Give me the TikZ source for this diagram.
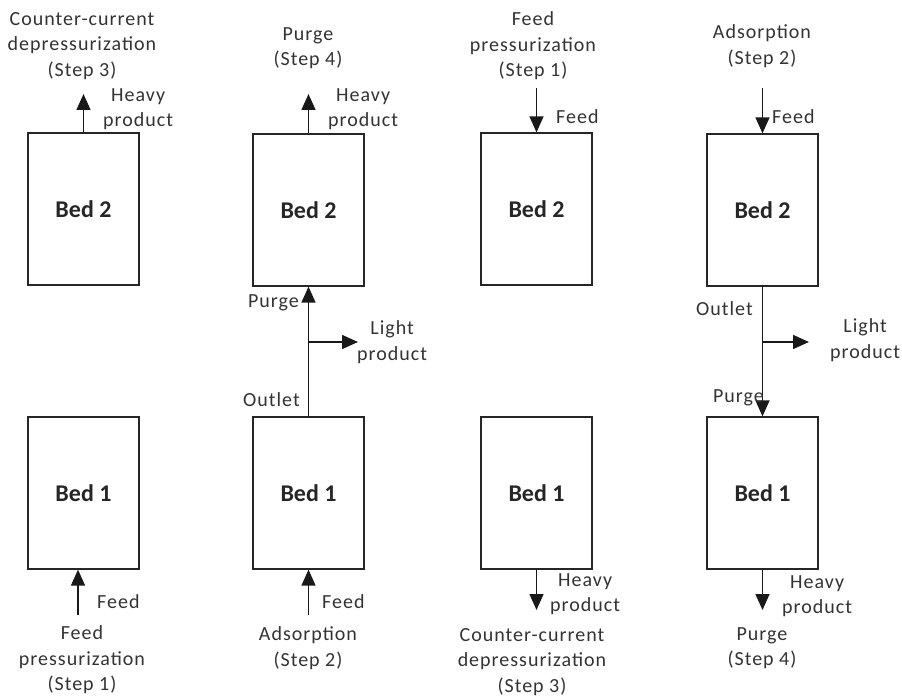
\documentclass[tikz,border=0pt]{standalone}
\usepackage{fontspec}
\setmainfont{Carlito}
\newfontfamily\lblfont[LetterSpace=5]{Carlito}
\usetikzlibrary{arrows.meta}
\tikzset{
  bed/.style={draw=black!85, line width=1.3pt, minimum width=111pt, minimum height=152pt, inner sep=0pt, font=\fontsize{24}{28}\selectfont\bfseries, text=black!85},
  flow/.style={draw=black!90, line width=1.5pt, -{Triangle[length=16pt,width=14pt]}},
  lbl/.style={font=\lblfont\fontsize{20}{25.5}\selectfont, text=black!80, align=center, inner sep=0pt},
}
\begin{document}
\begin{tikzpicture}[x=1pt,y=-1pt]
\useasboundingbox (0,0) rectangle (902,700);
% beds
\node[bed] (b2a) at (83.5,209) {Bed 2};
\node[bed] (b1a) at (83.5,493) {Bed 1};
\node[bed] (b2b) at (308.5,210) {Bed 2};
\node[bed] (b1b) at (308.5,493) {Bed 1};
\node[bed] (b2c) at (536.5,209) {Bed 2};
\node[bed] (b1c) at (536.5,493) {Bed 1};
\node[bed] (b2d) at (762.5,210) {Bed 2};
\node[bed] (b1d) at (762.5,493) {Bed 1};
% free ends
\coordinate (e1t) at (83.5,94);
\coordinate (e1b) at (78,615);
\coordinate (e2t) at (308.5,94);
\coordinate (e2b) at (308.5,615);
\coordinate (e3t) at (536.5,88);
\coordinate (e3b) at (536.5,610);
\coordinate (e4t) at (762.5,88);
\coordinate (e4b) at (762.5,610);
\coordinate (j2) at (308.5,342);
\coordinate (l2) at (358,342);
\coordinate (j4) at (762.5,342);
\coordinate (l4) at (809,342);
% connectors
\draw[flow] (b2a.north) -- (e1t);
\draw[flow] (e1b) -- (e1b |- b1a.south);
\draw[flow] (b2b.north) -- (e2t);
\draw[flow] (b1b.north) -- (b2b.south);
\draw[flow] (j2) -- (l2);
\draw[flow] (e2b) -- (b1b.south);
\draw[flow] (e3t) -- (b2c.north);
\draw[flow] (b1c.south) -- (e3b);
\draw[flow] (e4t) -- (b2d.north);
\draw[flow] (b2d.south) -- (b1d.north);
\draw[flow] (j4) -- (l4);
\draw[flow] (b1d.south) -- (e4b);
% column 1 labels
\node[lbl] (t1) at (82,46) {Counter-current\\depressurization\\(Step 3)};
\node[lbl, anchor=west] (h1) at (103,109) {Heavy\\product};
\node[lbl, anchor=west] (f1) at (97,602) {Feed};
\node[lbl] (s1) at (82,660) {Feed\\pressurization\\(Step 1)};
% column 2 labels
\node[lbl] (t2) at (308,48) {Purge\\(Step 4)};
\node[lbl, anchor=west] (h2) at (328,109) {Heavy\\product};
\node[lbl, anchor=east] (p2) at (299,303) {Purge};
\node[lbl, anchor=west] (lp2) at (357,342) {Light\\product};
\node[lbl, anchor=east] (o2) at (300,400) {Outlet};
\node[lbl, anchor=west] (f2) at (322,602) {Feed};
\node[lbl] (s2) at (308,648) {Adsorption\\(Step 2)};
% column 3 labels
\node[lbl] (t3) at (533,46) {Feed\\pressurization\\(Step 1)};
\node[lbl, anchor=west] (f3) at (556,117) {Feed};
\node[lbl, anchor=west] (h3) at (550,594) {Heavy\\product};
\node[lbl] (s3) at (532,662) {Counter-current\\depressurization\\(Step 3)};
% column 4 labels
\node[lbl] (t4) at (762,46) {Adsorption\\(Step 2)};
\node[lbl, anchor=west] (f4) at (772,117) {Feed};
\node[lbl, anchor=east] (o4) at (753,309) {Outlet};
\node[lbl, anchor=west] (lp4) at (830,340) {Light\\product};
\node[lbl, anchor=east] (p4) at (764,398) {Purge};
\node[lbl, anchor=west] (h4) at (782,596) {Heavy\\product};
\node[lbl] (s4) at (762,648) {Purge\\(Step 4)};
\end{tikzpicture}
\end{document}
